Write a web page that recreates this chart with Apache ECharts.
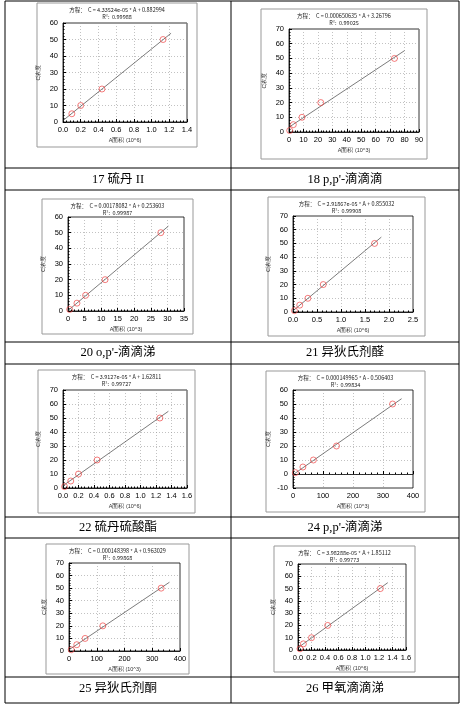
<!DOCTYPE html>
<html><head><meta charset="utf-8">
<script src="https://cdn.jsdelivr.net/npm/echarts@6/dist/echarts.min.js"></script>
<style>html,body{margin:0;padding:0;background:#fff}#c{width:463px;height:707px}</style>
</head><body><div id="c"></div>
<script>
// captions
const captions = ["17 硫丹 II","18 p,p'-滴滴滴","20 o,p'-滴滴涕","21 异狄氏剂醛","22 硫丹硫酸酯","24 p,p'-滴滴涕","25 异狄氏剂酮","26 甲氧滴滴涕"];
const equations = ["C = 4.33524e-05 * A + 0.882994","C = 0.000650635 * A + 3.26796","C = 0.00178082 * A + 0.253603","C = 2.91867e-05 * A + 0.855032","C = 3.9127e-05 * A + 1.62811","C = 0.000149965 * A - 0.506403","C = 0.000148398 * A + 0.963029","C = 3.98288e-05 * A + 1.85112"];
const r2 = ["0.99988","0.99025","0.99987","0.99908","0.99727","0.99834","0.99868","0.99773"];
const xUnits = ["10^6","10^3","10^3","10^6","10^6","10^3","10^3","10^6"];
// points (A, C)
const pts1 = [[0.1,5],[0.2,10],[0.44,20],[1.13,50]];
const pts2 = [[0.5,1],[3,5],[9,10],[22,20],[73,50]];
const pts3 = [[0.5,1],[2.7,5],[5.3,10],[11.2,20],[28,50]];
const pts4 = [[0.03,1],[0.14,5],[0.31,10],[0.63,20],[1.7,50]];
const pts5 = [[0.02,1],[0.1,5],[0.2,10],[0.44,20],[1.25,50]];
const pts6 = [[8,1],[33,5],[68,10],[145,20],[332,50]];
const pts7 = [[8,1],[28,5],[58,10],[122,20],[332,50]];
const pts8 = [[0.03,1],[0.08,5],[0.2,10],[0.44,20],[1.22,50]];
// fitted line end points
const line1 = [[0,0.88],[1.22,53.8]];
const line2 = [[0,3.27],[80,55.3]];
const line3 = [[0,0.25],[30.3,54.2]];
const line4 = [[0,0.86],[1.84,54.6]];
const line5 = [[0,1.63],[1.36,54.8]];
const line6 = [[0,-0.51],[362,53.8]];
const line7 = [[0,0.96],[362,54.7]];
const line8 = [[0,1.85],[1.33,54.8]];
// axes ranges [xmin,xmax,xint,ymin,ymax,yint]
const axes = [[0,1.4,0.2,0,60,10],[0,90,10,0,70,10],[0,35,5,0,60,10],[0,2.5,0.5,0,70,10],[0,1.6,0.2,0,70,10],[0,400,100,-10,60,10],[0,400,100,0,70,10],[0,1.6,0.2,0,70,10]];
const allPts = [pts1,pts2,pts3,pts4,pts5,pts6,pts7,pts8];
const allLines = [line1,line2,line3,line4,line5,line6,line7,line8];
// layout
const boxes = [[37,3,160,144],[261,9,166,150],[42,199,151,135],[268,197,157,139],[38,370,157,143],[266,371,159,141],[46,544,143,130],[274,546,141,126]];
const plots = [[63,23,187,122],[289,29,419,132],[68,217,184,311],[293,216,413,312],[63,390,187,488],[293,390,413,488],[69,563,180,651],[298,564,406,650]];
const capY = [180,180,353,353,528,528,689,689];

const grids=[],xAxes=[],yAxes=[],series=[],graphic=[];
for (let i=0;i<8;i++){
  const p=plots[i], a=axes[i], b=boxes[i];
  grids.push({left:p[0],top:p[1],width:p[2]-p[0],height:p[3]-p[1],show:true,borderColor:'#000',borderWidth:0.8});
  const dec = a[2] < 1;
  xAxes.push({gridIndex:i,type:'value',min:a[0],max:a[1],interval:a[2],
    axisLine:{lineStyle:{color:'#000',width:0.8}},axisTick:{inside:true,length:3,lineStyle:{color:'#000'}},
    minorTick:{show:true,splitNumber:5,length:1.5,lineStyle:{color:'#000'}},
    axisLabel:{fontSize:7.5,color:'#000',margin:4,fontFamily:'Liberation Sans',formatter:v=>dec?v.toFixed(1):String(Math.round(v))},
    splitLine:{show:true,lineStyle:{color:'#999',type:[1,2],width:0.6}},
    name:'A面积 ('+xUnits[i]+')',nameLocation:'middle',nameGap:15,nameTextStyle:{fontSize:5.5,color:'#333'}});
  yAxes.push({gridIndex:i,type:'value',min:a[3],max:a[4],interval:a[5],
    axisLine:{lineStyle:{color:'#000',width:0.8}},axisTick:{inside:true,length:3,lineStyle:{color:'#000'}},
    minorTick:{show:true,splitNumber:5,length:1.5,lineStyle:{color:'#000'}},
    axisLabel:{fontSize:7.5,color:'#000',margin:5,fontFamily:'Liberation Sans'},
    splitLine:{show:true,lineStyle:{color:'#999',type:[1,2],width:0.6}},
    name:'C浓度',nameLocation:'middle',nameGap:22,nameRotate:90,nameTextStyle:{fontSize:5.5,color:'#333'}});
  series.push({type:'line',xAxisIndex:i,yAxisIndex:i,data:allLines[i],symbol:'none',lineStyle:{color:'#444',width:0.7},silent:true,z:2});
  series.push({type:'scatter',xAxisIndex:i,yAxisIndex:i,data:allPts[i],symbol:'circle',symbolSize:6,
    itemStyle:{color:'rgba(0,0,0,0)',borderColor:'#e33',borderWidth:0.8},z:3});
  graphic.push({type:'rect',shape:{x:b[0],y:b[1],width:b[2],height:b[3]},style:{fill:null,stroke:'#999',lineWidth:1},silent:true});
  const cx=b[0]+b[2]/2;
  graphic.push({type:'text',x:cx,y:b[1]+4,style:{text:'方程：  '+equations[i],fontSize:5.5,fill:'#222',align:'center',fontFamily:'Noto Sans CJK SC'}});
  graphic.push({type:'text',x:cx,y:b[1]+11,style:{text:'R²:  '+r2[i],fontSize:5.5,fill:'#222',align:'center',fontFamily:'Noto Sans CJK SC'}});
  graphic.push({type:'text',x:(i%2===0?118:345),y:capY[i],style:{text:captions[i],fontSize:12.5,fill:'#000',align:'center',verticalAlign:'middle',fontFamily:'Liberation Serif, Noto Sans CJK SC'}});
}
const hl=[1,168,190,342,364,517,538,677,703];
hl.forEach(y=>graphic.push({type:'line',shape:{x1:5,y1:y,x2:459,y2:y},style:{stroke:'#000',lineWidth:1},silent:true}));
[5,231,459].forEach(x=>graphic.push({type:'line',shape:{x1:x,y1:1,x2:x,y2:703},style:{stroke:'#000',lineWidth:1},silent:true}));
const chart=echarts.init(document.getElementById('c'));
chart.setOption({animation:false,grid:grids,xAxis:xAxes,yAxis:yAxes,series:series,graphic:graphic});
</script></body></html>
